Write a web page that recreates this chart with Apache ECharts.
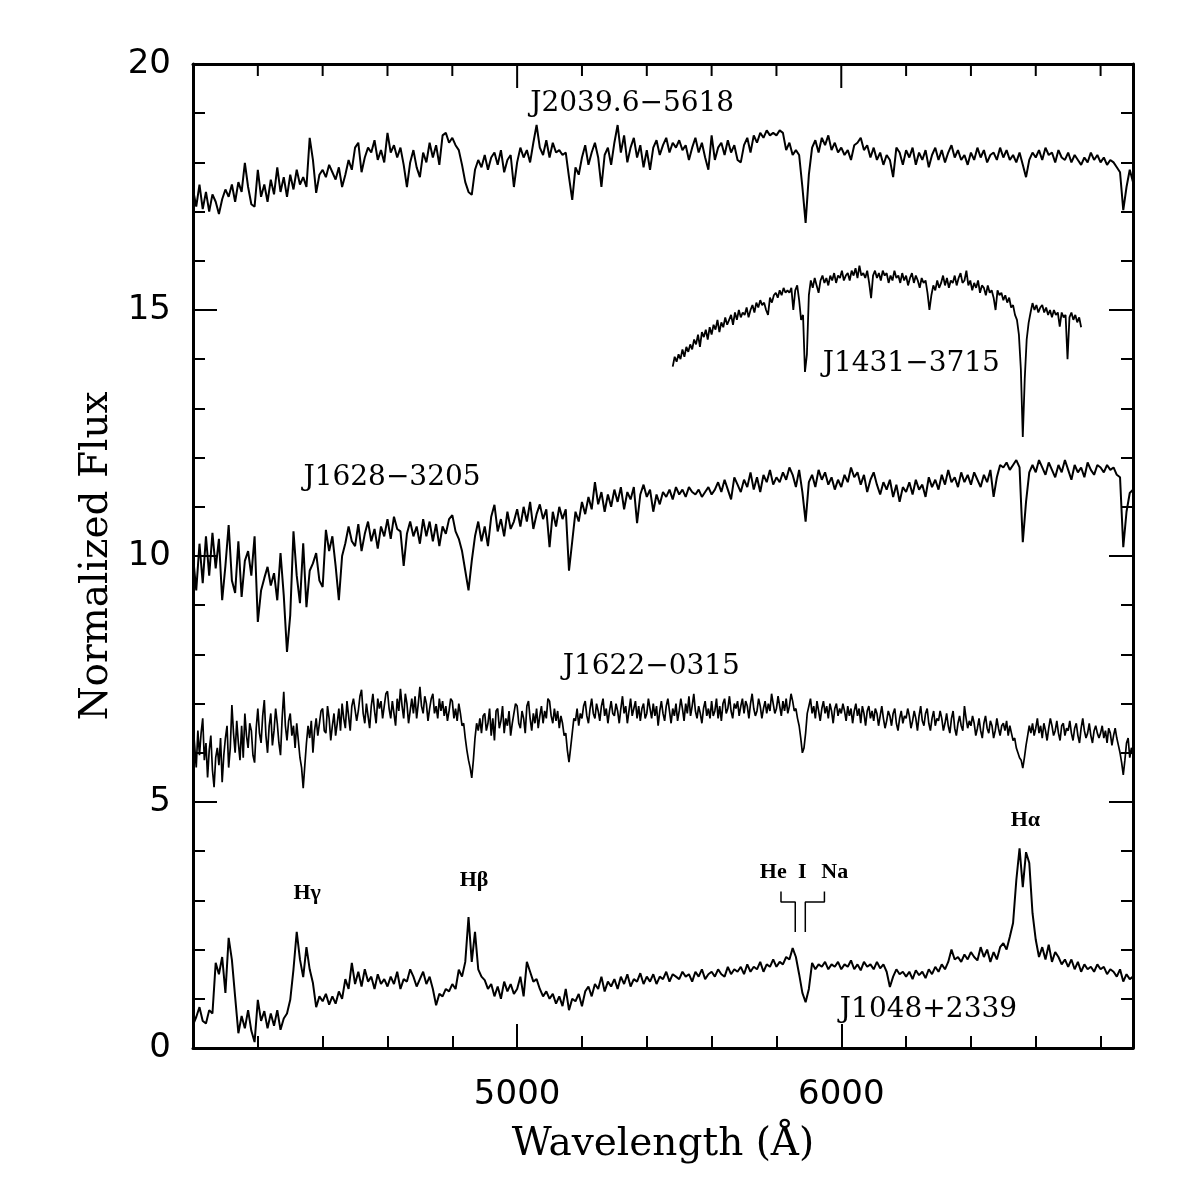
<!DOCTYPE html>
<html>
<head>
<meta charset="utf-8">
<title>Normalized spectra</title>
<script src="https://cdn.jsdelivr.net/npm/echarts@6/dist/echarts.min.js"></script>
<style>
  html, body { margin: 0; padding: 0; background: #fff; }
  #chart { width: 1196px; height: 1196px; }
</style>
</head>
<body>
<div id="chart"></div>
<script>
// wavelength grids (Angstrom): first sample and spacing
const fullStart = 4000, fullStep = 10;
const j1431Start = 5480, j1431Step = 6;
const j1622Start = 4000, j1622Step = 5;

// J2039.6-5618, offset spectrum at the top
const fluxJ2039 = [
  17.45, 17.10, 17.55, 17.05, 17.40, 17.00, 17.35, 17.20, 16.95, 17.25,
  17.45, 17.30, 17.55, 17.20, 17.60, 17.40, 17.99, 17.50, 17.15, 17.10,
  17.85, 17.30, 17.55, 17.20, 17.65, 17.35, 17.90, 17.40, 17.70, 17.30,
  17.75, 17.45, 17.85, 17.55, 17.70, 17.50, 18.50, 18.05, 17.38, 17.75,
  17.85, 17.70, 17.95, 17.80, 17.65, 17.90, 17.50, 17.75, 18.05, 17.85,
  18.30, 18.40, 17.80, 18.10, 18.30, 18.20, 18.45, 18.05, 18.25, 18.00,
  18.60, 18.20, 18.35, 18.10, 18.30, 17.95, 17.50, 18.00, 18.25, 17.90,
  17.70, 18.20, 18.00, 18.40, 18.10, 18.35, 17.95, 18.55, 18.60, 18.40,
  18.50, 18.35, 18.25, 17.95, 17.60, 17.40, 17.34, 17.85, 18.05, 17.90,
  18.15, 17.85, 18.10, 18.20, 17.95, 18.25, 17.80, 18.05, 18.15, 17.50,
  18.00, 18.30, 18.10, 18.25, 18.00, 18.40, 18.76, 18.30, 18.15, 18.45,
  18.10, 18.40, 18.20, 18.25, 18.15, 18.20, 17.70, 17.24, 17.90, 17.75,
  18.10, 18.35, 17.95, 18.20, 18.40, 18.10, 17.50, 18.15, 18.30, 17.95,
  18.40, 18.76, 18.20, 18.55, 18.00, 18.30, 18.50, 18.10, 18.35, 17.90,
  18.25, 17.85, 18.30, 18.45, 18.15, 18.35, 18.50, 18.20, 18.40, 18.30,
  18.45, 18.25, 18.35, 18.05, 18.30, 18.50, 18.20, 18.40, 18.10, 17.85,
  18.55, 18.05, 18.30, 18.40, 18.15, 18.45, 18.20, 18.35, 18.05, 18.00,
  18.35, 18.50, 18.20, 18.55, 18.40, 18.60, 18.50, 18.65, 18.55, 18.60,
  18.55, 18.65, 18.60, 18.25, 18.40, 18.15, 18.25, 18.15, 17.50, 16.77,
  17.75, 18.30, 18.45, 18.20, 18.50, 18.35, 18.55, 18.25, 18.40, 18.20,
  18.30, 18.15, 18.25, 18.05, 18.35, 18.40, 18.50, 18.25, 18.35, 18.10,
  18.30, 18.05, 18.20, 17.95, 18.15, 18.05, 17.70, 18.30, 18.20, 17.95,
  18.25, 18.10, 18.30, 17.95, 18.20, 18.05, 18.25, 17.90, 18.15, 18.30,
  18.05, 18.25, 18.00, 18.20, 18.35, 18.10, 18.25, 18.05, 18.15, 17.95,
  18.20, 18.05, 18.30, 18.10, 18.25, 18.00, 18.15, 18.20, 18.05, 18.30,
  18.10, 18.25, 18.05, 18.15, 18.00, 18.20, 17.95, 17.70, 18.05, 18.20,
  18.10, 18.25, 18.05, 18.30, 18.15, 18.20, 18.00, 18.25, 18.10, 18.05,
  18.20, 18.00, 18.15, 18.05, 17.95, 18.10, 18.00, 18.20, 18.05, 18.15,
  18.00, 18.10, 17.95, 18.05, 18.00, 17.90, 17.80, 17.03, 17.50, 17.85,
  17.60
];

// J1431-3715, shorter and finer sampled
const fluxJ1431 = [
  13.85, 14.05, 13.95, 14.10, 14.00, 14.20, 14.05, 14.25, 14.15, 14.30,
  14.20, 14.40, 14.30, 14.50, 14.25, 14.55, 14.45, 14.60, 14.40, 14.65,
  14.50, 14.70, 14.60, 14.80, 14.55, 14.75, 14.65, 14.85, 14.70, 14.80,
  14.90, 14.70, 14.95, 14.80, 15.00, 14.85, 14.95, 14.90, 15.05, 14.85,
  15.00, 15.10, 14.95, 15.15, 15.05, 15.20, 15.10, 15.15, 15.00, 14.90,
  15.25, 15.15, 15.30, 15.35, 15.25, 15.40, 15.30, 15.45, 15.35, 15.40,
  15.35, 15.45, 15.00, 15.40, 15.50, 15.20, 14.80, 14.90, 13.74, 14.10,
  15.30, 15.60, 15.45, 15.65, 15.50, 15.35, 15.60, 15.70, 15.55, 15.65,
  15.50, 15.70, 15.60, 15.75, 15.55, 15.70, 15.65, 15.80, 15.60, 15.70,
  15.75, 15.60, 15.80, 15.70, 15.85, 15.65, 15.90, 15.70, 15.75, 15.65,
  15.80, 15.55, 15.24, 15.70, 15.80, 15.65, 15.75, 15.60, 15.80, 15.70,
  15.75, 15.55, 15.70, 15.60, 15.80, 15.65, 15.70, 15.55, 15.75, 15.60,
  15.70, 15.50, 15.65, 15.75, 15.55, 15.70, 15.60, 15.45, 15.65, 15.55,
  15.60, 15.35, 15.00, 15.30, 15.50, 15.40, 15.60, 15.45, 15.55, 15.70,
  15.50, 15.65, 15.45, 15.60, 15.55, 15.70, 15.50, 15.65, 15.75, 15.55,
  15.60, 15.80, 15.50, 15.60, 15.40, 15.55, 15.45, 15.60, 15.35, 15.50,
  15.45, 15.30, 15.50, 15.35, 15.40, 15.25, 15.00, 15.40, 15.30, 15.35,
  15.20, 15.30, 15.15, 15.25, 15.05, 15.10, 14.90, 14.80, 14.50, 13.80,
  12.42, 13.60, 14.40, 14.74, 14.95, 15.14, 15.00, 15.10, 14.95, 15.05,
  15.10, 14.95, 15.05, 14.90, 15.00, 14.85, 15.00, 14.90, 14.95, 14.66,
  14.95, 14.85, 14.90, 14.00, 14.85, 14.95, 14.80, 14.90, 14.75, 14.85,
  14.65
];

// J1628-3205
const fluxJ1628 = [
  10.00, 9.30, 10.25, 9.45, 10.40, 9.60, 10.47, 9.75, 10.35, 9.10,
  9.80, 10.63, 9.50, 9.25, 10.30, 9.17, 9.90, 10.10, 9.60, 10.40,
  8.66, 9.30, 9.55, 9.78, 9.40, 9.65, 9.10, 10.06, 9.20, 8.05,
  8.80, 10.50, 9.60, 9.04, 10.26, 8.96, 9.70, 9.85, 10.06, 9.50,
  9.37, 10.53, 10.10, 10.40, 9.80, 9.10, 10.00, 10.26, 10.60, 10.30,
  10.20, 10.65, 10.10, 10.45, 10.70, 10.30, 10.55, 10.15, 10.60, 10.40,
  10.75, 10.35, 10.80, 10.55, 10.50, 9.80, 10.45, 10.70, 10.40, 10.60,
  10.25, 10.75, 10.40, 10.70, 10.30, 10.65, 10.20, 10.60, 10.45, 10.75,
  10.83, 10.50, 10.35, 10.10, 9.70, 9.30, 9.90, 10.40, 10.70, 10.30,
  10.60, 10.20, 10.80, 11.04, 10.50, 10.75, 10.40, 10.90, 10.55, 10.70,
  10.95, 10.60, 11.00, 10.70, 11.10, 10.55, 10.85, 11.05, 10.75, 10.95,
  10.18, 10.90, 10.60, 11.00, 10.75, 10.95, 9.70, 10.30, 10.90, 10.70,
  11.10, 10.85, 11.20, 10.95, 11.50, 11.05, 11.30, 10.90, 11.25, 11.00,
  11.35, 11.10, 11.40, 10.95, 11.30, 11.15, 11.40, 10.67, 11.25, 11.45,
  11.20, 11.35, 10.90, 11.25, 11.05, 11.30, 11.20, 11.35, 11.15, 11.40,
  11.25, 11.35, 11.20, 11.40, 11.30, 11.25, 11.35, 11.20, 11.30, 11.40,
  11.25, 11.35, 11.50, 11.30, 11.55, 11.35, 11.15, 11.60, 11.45, 11.30,
  11.55, 11.40, 11.70, 11.35, 11.60, 11.30, 11.65, 11.50, 11.75, 11.45,
  11.60, 11.50, 11.70, 11.55, 11.80, 11.65, 11.40, 11.75, 11.30, 10.70,
  11.50, 11.65, 11.40, 11.75, 11.55, 11.70, 11.45, 11.60, 11.35, 11.55,
  11.40, 11.65, 11.50, 11.80, 11.60, 11.70, 11.45, 11.65, 11.30, 11.55,
  11.70, 11.45, 11.25, 11.50, 11.35, 11.55, 11.20, 11.45, 11.10, 11.40,
  11.30, 11.50, 11.25, 11.55, 11.35, 11.45, 11.20, 11.60, 11.40, 11.55,
  11.35, 11.65, 11.45, 11.75, 11.50, 11.60, 11.40, 11.70, 11.50, 11.65,
  11.45, 11.70, 11.55, 11.40, 11.65, 11.50, 11.75, 11.20, 11.60, 11.85,
  11.80, 11.90, 11.75, 11.85, 11.95, 11.80, 10.28, 11.10, 11.70, 11.85,
  11.70, 11.95, 11.80, 11.65, 11.90, 11.75, 11.60, 11.85, 11.70, 11.95,
  11.75, 11.55, 11.85, 11.70, 11.80, 11.60, 11.90, 11.75, 11.65, 11.85,
  11.80, 11.70, 11.85, 11.75, 11.80, 11.65, 11.60, 10.18, 10.90, 11.28,
  11.35
];

// J1622-0315, noisier, sampled every 5 A (20 values per 100 A row)
const fluxJ1622 = [
  6.60, 6.15, 5.70, 6.45, 5.95, 6.40, 6.70, 5.85, 6.20, 5.50, 6.05, 6.35, 5.65, 5.30, 5.90, 6.10, 5.75, 6.30, 5.40, 5.95,
  6.30, 6.55, 5.70, 6.10, 6.97, 6.40, 6.00, 6.65, 6.20, 5.85, 6.55, 5.90, 6.80, 6.35, 6.10, 6.60, 6.45, 5.95, 5.80, 6.50,
  6.90, 6.40, 6.20, 6.75, 7.07, 6.35, 6.00, 6.55, 6.80, 6.15, 6.45, 6.90, 6.60, 6.20, 5.95, 6.70, 7.24, 6.55, 6.25, 6.65,
  6.80, 6.35, 6.55, 6.10, 6.60, 6.25, 5.90, 5.70, 5.28, 5.75, 6.20, 6.55, 6.30, 6.65, 6.00, 6.45, 6.70, 6.35, 6.60, 6.85,
  6.90, 6.45, 6.40, 6.95, 6.70, 6.25, 6.55, 6.80, 6.35, 6.60, 6.90, 6.45, 7.00, 6.70, 6.50, 7.05, 6.75, 6.45, 6.95, 7.10,
  7.10, 6.65, 6.85, 7.15, 7.28, 6.80, 6.60, 7.00, 6.75, 6.50, 6.95, 7.20, 6.85, 6.60, 7.10, 6.90, 7.05, 6.70, 6.95, 7.20,
  7.25, 6.90, 6.70, 7.05, 6.80, 6.55, 7.10, 6.85, 7.30, 6.95, 6.70, 7.20, 7.00, 6.60, 6.85, 7.10, 6.80, 7.15, 6.70, 7.00,
  7.34, 6.95, 6.80, 7.15, 7.00, 6.65, 6.90, 7.10, 7.20, 6.80, 6.95, 6.70, 7.10, 6.85, 7.05, 6.75, 6.95, 6.65, 6.85, 7.10,
  7.05, 6.70, 6.90, 6.65, 7.00, 6.80, 6.55, 6.60, 6.30, 6.05, 5.85, 5.70, 5.49, 5.85, 6.30, 6.60, 6.45, 6.70, 6.40, 6.75,
  6.80, 6.45, 6.60, 6.90, 6.35, 6.70, 6.25, 6.85, 6.90, 6.50, 6.65, 6.95, 6.40, 6.70, 6.55, 6.85, 6.35, 6.60, 6.80, 7.00,
  6.95, 6.60, 6.50, 6.85, 6.70, 6.40, 6.95, 7.05, 6.70, 6.45, 6.80, 6.60, 6.90, 6.50, 6.75, 6.95, 6.60, 6.85, 6.70, 7.10,
  7.05, 6.75, 6.60, 6.90, 6.65, 6.85, 6.50, 6.75, 6.60, 6.35, 6.40, 6.05, 5.81, 6.10, 6.40, 6.70, 6.65, 6.90, 6.55, 6.80,
  6.70, 6.95, 7.05, 6.75, 6.60, 6.90, 7.10, 6.80, 6.70, 7.00, 6.85, 6.65, 6.95, 7.10, 6.75, 6.90, 6.60, 6.85, 7.05, 6.80,
  6.75, 7.00, 6.85, 6.60, 6.90, 7.15, 6.80, 6.95, 6.60, 6.85, 7.10, 6.75, 6.90, 7.05, 6.70, 6.95, 6.65, 6.90, 7.00, 6.70,
  6.80, 7.10, 6.90, 6.70, 7.00, 6.75, 6.95, 6.55, 6.85, 7.05, 6.80, 6.65, 6.95, 7.10, 6.85, 6.60, 6.90, 6.75, 7.00, 6.65,
  6.85, 7.10, 6.90, 6.65, 7.00, 6.80, 7.15, 6.75, 6.95, 7.20, 6.85, 6.70, 6.95, 6.80, 6.60, 6.90, 7.05, 6.75, 6.90, 6.70,
  7.05, 6.75, 6.85, 7.10, 6.70, 6.95, 6.65, 7.00, 7.10, 6.80, 6.90, 7.15, 6.85, 6.70, 7.00, 6.90, 7.05, 6.75, 6.95, 7.10,
  6.80, 7.05, 6.95, 6.70, 7.00, 7.20, 6.90, 6.75, 6.85, 7.10, 6.95, 6.70, 6.90, 7.05, 6.80, 7.00, 6.85, 7.20, 7.00, 6.80,
  6.90, 7.15, 6.95, 6.75, 7.05, 6.85, 7.10, 6.80, 6.95, 7.20, 7.05, 6.85, 6.90, 6.70, 6.55, 6.30, 6.00, 6.10, 6.40, 6.80,
  6.95, 7.10, 6.80, 6.95, 6.70, 7.05, 6.85, 6.65, 6.90, 7.05, 6.80, 6.95, 6.70, 7.00, 6.85, 6.60, 6.90, 7.00, 6.75, 6.90,
  6.80, 7.00, 6.85, 6.65, 6.95, 6.75, 6.90, 6.60, 6.85, 7.00, 6.75, 6.90, 6.60, 6.95, 6.80, 6.55, 6.85, 6.95, 6.70, 6.85,
  6.65, 6.90, 6.80, 6.55, 6.75, 6.95, 6.70, 6.50, 6.65, 6.85, 6.75, 6.55, 6.80, 6.90, 6.60, 6.45, 6.70, 6.85, 6.60, 6.75,
  6.70, 6.90, 6.75, 6.50, 6.65, 6.85, 6.70, 6.45, 6.75, 6.95, 6.65, 6.55, 6.80, 6.90, 6.60, 6.45, 6.70, 6.85, 6.55, 6.70,
  6.65, 6.85, 6.70, 6.45, 6.60, 6.80, 6.55, 6.40, 6.70, 6.85, 6.50, 6.35, 6.60, 6.75, 6.55, 6.45, 6.95, 6.70, 6.50, 6.65,
  6.55, 6.75, 6.60, 6.35, 6.50, 6.70, 6.45, 6.30, 6.60, 6.75, 6.50, 6.40, 6.65, 6.55, 6.30, 6.45, 6.70, 6.50, 6.35, 6.55,
  6.60, 6.45, 6.65, 6.35, 6.55, 6.40, 6.25, 6.30, 6.10, 6.00, 5.90, 5.85, 5.69, 5.90, 6.15, 6.35, 6.55, 6.40, 6.60, 6.35,
  6.50, 6.70, 6.40, 6.55, 6.30, 6.60, 6.45, 6.25, 6.50, 6.70, 6.55, 6.35, 6.45, 6.65, 6.40, 6.25, 6.55, 6.60, 6.35, 6.50,
  6.45, 6.65, 6.40, 6.25, 6.50, 6.60, 6.35, 6.20, 6.50, 6.70, 6.45, 6.30, 6.40, 6.60, 6.35, 6.20, 6.45, 6.55, 6.40, 6.30,
  6.40, 6.55, 6.30, 6.45, 6.20, 6.50, 6.40, 6.15, 6.35, 6.50, 6.30, 6.15, 6.00, 5.80, 5.55, 5.85, 6.20, 6.30, 5.90, 6.10,
  6.00
];

// J1048+2339, with the Balmer emission lines
const fluxJ1048 = [
  0.47, 0.63, 0.83, 0.55, 0.50, 0.77, 0.70, 1.73, 1.50, 1.85,
  1.12, 2.24, 1.79, 1.04, 0.30, 0.65, 0.40, 0.77, 0.35, 0.12,
  0.98, 0.55, 0.75, 0.40, 0.70, 0.45, 0.77, 0.37, 0.60, 0.70,
  0.98, 1.60, 2.36, 1.80, 1.44, 2.05, 1.60, 1.32, 0.83, 1.05,
  0.95, 1.10, 0.88, 1.05, 0.90, 1.15, 1.00, 1.40, 1.20, 1.73,
  1.30, 1.55, 1.25, 1.60, 1.35, 1.45, 1.20, 1.50, 1.30, 1.40,
  1.25, 1.45, 1.30, 1.55, 1.20, 1.40, 1.35, 1.60, 1.45, 1.25,
  1.40, 1.55, 1.30, 1.45, 1.20, 0.87, 1.10, 1.05, 1.20, 1.15,
  1.30, 1.20, 1.59, 1.45, 1.75, 2.66, 1.75, 2.36, 1.60, 1.45,
  1.38, 1.20, 1.30, 1.05, 1.25, 1.00, 1.35, 1.15, 1.30, 1.10,
  1.20, 1.45, 1.05, 1.75, 1.55, 1.35, 1.40, 1.20, 1.05, 1.15,
  1.00, 1.10, 0.90, 1.05, 0.85, 1.20, 0.77, 1.00, 0.95, 1.10,
  0.85, 1.15, 1.25, 1.05, 1.30, 1.20, 1.45, 1.15, 1.35, 1.25,
  1.40, 1.20, 1.45, 1.30, 1.50, 1.25, 1.40, 1.35, 1.52, 1.30,
  1.45, 1.35, 1.50, 1.30, 1.45, 1.40, 1.55, 1.35, 1.50, 1.45,
  1.40, 1.55, 1.45, 1.50, 1.35, 1.55, 1.45, 1.60, 1.40, 1.50,
  1.55, 1.45, 1.60, 1.50, 1.45, 1.65, 1.50, 1.60, 1.55, 1.65,
  1.50, 1.70, 1.55, 1.65, 1.60, 1.75, 1.55, 1.70, 1.65, 1.80,
  1.65, 1.75, 1.70, 1.85, 1.80, 2.03, 1.85, 1.50, 1.12, 0.93,
  1.20, 1.73, 1.60, 1.70, 1.65, 1.75, 1.60, 1.70, 1.65, 1.75,
  1.60, 1.70, 1.65, 1.78, 1.60, 1.70, 1.58, 1.75, 1.65, 1.70,
  1.60, 1.75, 1.62, 1.70, 1.55, 1.24, 1.45, 1.60, 1.50, 1.55,
  1.45, 1.55, 1.40, 1.58, 1.48, 1.55, 1.42, 1.60, 1.50, 1.65,
  1.55, 1.70, 1.60, 1.75, 2.00, 1.80, 1.85, 1.75, 1.90, 1.80,
  1.95, 1.85, 1.78, 2.05, 1.85, 2.00, 1.75, 1.95, 1.80, 2.05,
  2.13, 2.00, 2.26, 2.54, 3.41, 4.06, 3.27, 3.98, 3.76, 2.74,
  2.20, 1.85, 2.05, 1.80, 2.10, 1.75, 1.95, 1.85, 1.70, 1.80,
  1.65, 1.80, 1.60, 1.75, 1.55, 1.70, 1.60, 1.65, 1.55, 1.70,
  1.60, 1.65, 1.50, 1.60, 1.55, 1.45, 1.60, 1.35, 1.50, 1.40,
  1.45
];

// line identification brackets for He I 5876 and Na D (wavelength, flux)
const heBracket = [[5814, 3.18], [5814, 2.97], [5858, 2.97], [5858, 2.36]];
const naBracket = [[5889, 2.36], [5889, 2.97], [5948, 2.97], [5948, 3.18]];

const xTickLabels = [5000, 6000];
// tick marks along the top edge of the frame
const topTickWavelengths = [4200, 4400, 4600, 4800, 5000, 5200, 5400, 5600, 5800, 6000, 6200, 6400, 6600, 6800];

// text annotations anchored in data units
const nameFont = { fontFamily: 'DejaVu Serif', fontSize: 28, fontWeight: 'normal' };
const lineFont = { fontFamily: 'Liberation Serif', fontSize: 22, fontWeight: 'bold' };
const annotations = [
  { text: 'J2039.6−5618', at: [5355, 19.19], font: nameFont },
  { text: 'J1431−3715', at: [6216, 13.9], font: nameFont },
  { text: 'J1628−3205', at: [4614, 11.6], font: nameFont },
  { text: 'J1622−0315', at: [5414, 7.75], font: nameFont },
  { text: 'J1048+2339', at: [6269, 0.78], font: nameFont },
  { text: 'Hγ', at: [4352, 3.15], font: lineFont },
  { text: 'Hβ', at: [4867, 3.41], font: lineFont },
  { text: 'Hα', at: [6568, 4.63], font: lineFont },
  { text: 'He', at: [5790, 3.58], font: lineFont },
  { text: 'I', at: [5880, 3.58], font: lineFont },
  { text: 'Na', at: [5980, 3.58], font: lineFont }
];

function toPoints(start, step, values) {
  return values.map((v, i) => [start + i * step, v]);
}

function spectrumSeries(name, points, width) {
  return {
    name: name,
    type: 'line',
    data: points,
    showSymbol: false,
    symbol: 'none',
    silent: true,
    xAxisIndex: 0,
    yAxisIndex: 0,
    lineStyle: { color: '#000', width: width }
  };
}

const chart = echarts.init(document.getElementById('chart'), null, { renderer: 'canvas' });

const tickStyle = { color: '#000', width: 2 };
const frameLine = { onZero: false, lineStyle: { color: '#000', width: 3 } };

function xAxisPart(position, interval, tickLen, withLine) {
  return {
    type: 'value',
    position: position,
    offset: 0,
    min: 4000,
    max: 6900,
    interval: interval,
    axisLine: withLine ? frameLine : { show: false, onZero: false },
    axisTick: { show: true, inside: true, length: tickLen, lineStyle: tickStyle },
    axisLabel: { show: false },
    splitLine: { show: false }
  };
}

const bottomMajor = xAxisPart('bottom', 1000, 24, true);
bottomMajor.axisLabel = {
  show: true,
  formatter: v => (xTickLabels.indexOf(v) >= 0 ? String(v) : ''),
  fontFamily: 'DejaVu Sans',
  fontSize: 34,
  color: '#000',
  margin: 30
};
bottomMajor.name = 'Wavelength (Å)';
bottomMajor.nameLocation = 'middle';
bottomMajor.nameGap = 77;
bottomMajor.nameTextStyle = { fontFamily: 'DejaVu Serif', fontSize: 39, color: '#000' };

const topFrame = xAxisPart('top', 1000, 24, true);
topFrame.axisTick = { show: false };

function yAxisPart(position, withLabels) {
  return {
    type: 'value',
    position: position,
    min: 0,
    max: 20,
    interval: 5,
    axisLine: frameLine,
    axisTick: { inside: true, length: 24, lineStyle: tickStyle },
    minorTick: { show: true, splitNumber: 5, length: 12, lineStyle: tickStyle },
    axisLabel: withLabels
      ? { fontFamily: 'DejaVu Sans', fontSize: 34, color: '#000', margin: 22 }
      : { show: false },
    splitLine: { show: false },
    minorSplitLine: { show: false }
  };
}

const leftAxis = yAxisPart('left', true);
leftAxis.name = 'Normalized Flux';
leftAxis.nameLocation = 'middle';
leftAxis.nameRotate = 90;
leftAxis.nameGap = 70;
leftAxis.nameTextStyle = { fontFamily: 'DejaVu Serif', fontSize: 39, color: '#000' };

const option = {
  animation: false,
  backgroundColor: '#fff',
  grid: { left: 193, right: 63, top: 64, bottom: 148, containLabel: false },
  xAxis: [
    bottomMajor,
    xAxisPart('bottom', 200, 12, false),
    topFrame
  ],
  yAxis: [leftAxis, yAxisPart('right', false)],
  series: [
    spectrumSeries('J2039.6-5618', toPoints(fullStart, fullStep, fluxJ2039), 2),
    spectrumSeries('J1431-3715', toPoints(j1431Start, j1431Step, fluxJ1431), 1.8),
    spectrumSeries('J1628-3205', toPoints(fullStart, fullStep, fluxJ1628), 2),
    spectrumSeries('J1622-0315', toPoints(j1622Start, j1622Step, fluxJ1622), 1.7),
    spectrumSeries('J1048+2339', toPoints(fullStart, fullStep, fluxJ1048), 2),
    spectrumSeries('He I', heBracket, 1.5),
    spectrumSeries('Na', naBracket, 1.5),
    {
      // inward ticks hanging from the top frame; long ones on whole thousands
      name: 'top ticks',
      type: 'custom',
      xAxisIndex: 0,
      yAxisIndex: 0,
      silent: true,
      clip: false,
      data: topTickWavelengths.map(w => [w, 20]),
      renderItem: (params, api) => {
        const w = api.value(0);
        const p = api.coord([w, api.value(1)]);
        const len = w % 1000 === 0 ? 24 : 12;
        return {
          type: 'line',
          shape: { x1: p[0], y1: p[1], x2: p[0], y2: p[1] + len },
          style: { stroke: '#000', lineWidth: 2 }
        };
      }
    }
  ]
};

chart.setOption(option);

// place the text labels through the axis scales
const textGraphics = annotations.map(a => {
  const p = chart.convertToPixel({ seriesIndex: 0 }, a.at);
  return {
    type: 'text',
    x: p[0],
    y: p[1],
    silent: true,
    style: {
      text: a.text,
      fill: '#000',
      fontFamily: a.font.fontFamily,
      fontSize: a.font.fontSize,
      fontWeight: a.font.fontWeight,
      align: 'center',
      verticalAlign: 'middle'
    }
  };
});
chart.setOption({ graphic: textGraphics });
</script>
</body>
</html>
